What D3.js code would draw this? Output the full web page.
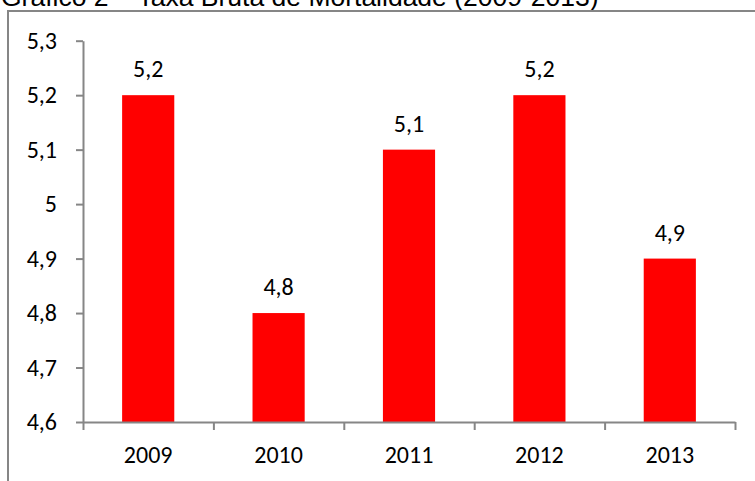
<!DOCTYPE html>
<html>
<head>
<meta charset="utf-8">
<script src="https://cdn.jsdelivr.net/npm/d3@7"></script>
<style>
  body { margin: 0; background: #fff; }
  svg { display: block; }
  .lbl { font-family: Calibri, Carlito, Lato, sans-serif; font-size: 24px; fill: #000; }
</style>
</head>
<body>
<svg id="chart" width="755" height="481"></svg>
<script>
// + -- data ---------------------------------------------------------------- +
const years = ['2009', '2010', '2011', '2012', '2013']
const taxa = [5.2, 4.8, 5.1, 5.2, 4.9]
const yTicks = [4.6, 4.7, 4.8, 4.9, 5.0, 5.1, 5.2, 5.3]
const title = 'Gráfico 2 – Taxa Bruta de Mortalidade (2009-2013)'

const GRAY = '#868686'
const fmt = v => d3.format('.1~f')(v).replace('.', ',')

let svg = d3.select('#chart')

// title, cut off at the top like the scan
svg.append('text')
  .attr('x', 1)
  .attr('y', 6)
  .attr('font-family', 'Arial, "Liberation Sans", sans-serif')
  .attr('font-size', 26.5)
  .attr('fill', '#000')
  .text(title)

// chart frame (runs off the page right and bottom)
svg.append('rect')
  .attr('x', 8).attr('y', 11)
  .attr('width', 900).attr('height', 600)
  .attr('fill', 'none')
  .attr('stroke', GRAY)
  .attr('stroke-width', 2)

let plotL = 83, plotR = 735, plotT = 40.7, plotB = 422

let x = d3.scaleBand().domain(years).range([plotL, plotR]).paddingInner(0.6).paddingOuter(0.3)
let y = d3.scaleLinear().domain([4.6, 5.3]).range([plotB, plotT])
let edges = d3.scaleLinear().domain([0, years.length]).range([plotL, plotR])

// bars
svg.append('g').selectAll('rect')
  .data(taxa)
  .join('rect')
  .attr('x', (d, i) => x(years[i]))
  .attr('y', d => y(d))
  .attr('width', x.bandwidth())
  .attr('height', d => plotB - y(d))
  .attr('fill', '#ff0000')

// value labels
svg.append('g').selectAll('text')
  .data(taxa)
  .join('text')
  .attr('class', 'lbl')
  .attr('x', (d, i) => x(years[i]) + x.bandwidth() / 2)
  .attr('y', d => y(d) - 18)
  .attr('text-anchor', 'middle')
  .text(d => fmt(d))

// y axis
let yAxis = svg.append('g')
  .attr('transform', 'translate(' + plotL + ',0)')
  .call(d3.axisLeft(y).tickValues(yTicks).tickSize(7).tickSizeOuter(0).tickFormat(fmt))
yAxis.select('.domain').attr('stroke', GRAY).attr('stroke-width', 2)
yAxis.selectAll('.tick line').attr('stroke', GRAY).attr('stroke-width', 2)
yAxis.selectAll('.tick text')
  .attr('class', 'lbl')
  .attr('x', -26)
  .attr('font-family', null).attr('font-size', null)

// x axis: ticks at category edges
let xAxis = svg.append('g')
  .attr('transform', 'translate(0,' + plotB + ')')
  .call(d3.axisBottom(edges).tickValues(d3.range(years.length + 1)).tickSize(8).tickSizeOuter(0).tickFormat(''))
xAxis.select('.domain').attr('stroke', GRAY).attr('stroke-width', 2)
xAxis.selectAll('.tick line').attr('stroke', GRAY).attr('stroke-width', 2)

// category labels
svg.append('g').selectAll('text')
  .data(years)
  .join('text')
  .attr('class', 'lbl')
  .attr('x', d => x(d) + x.bandwidth() / 2)
  .attr('y', 463)
  .attr('text-anchor', 'middle')
  .text(d => d)
</script>
</body>
</html>
